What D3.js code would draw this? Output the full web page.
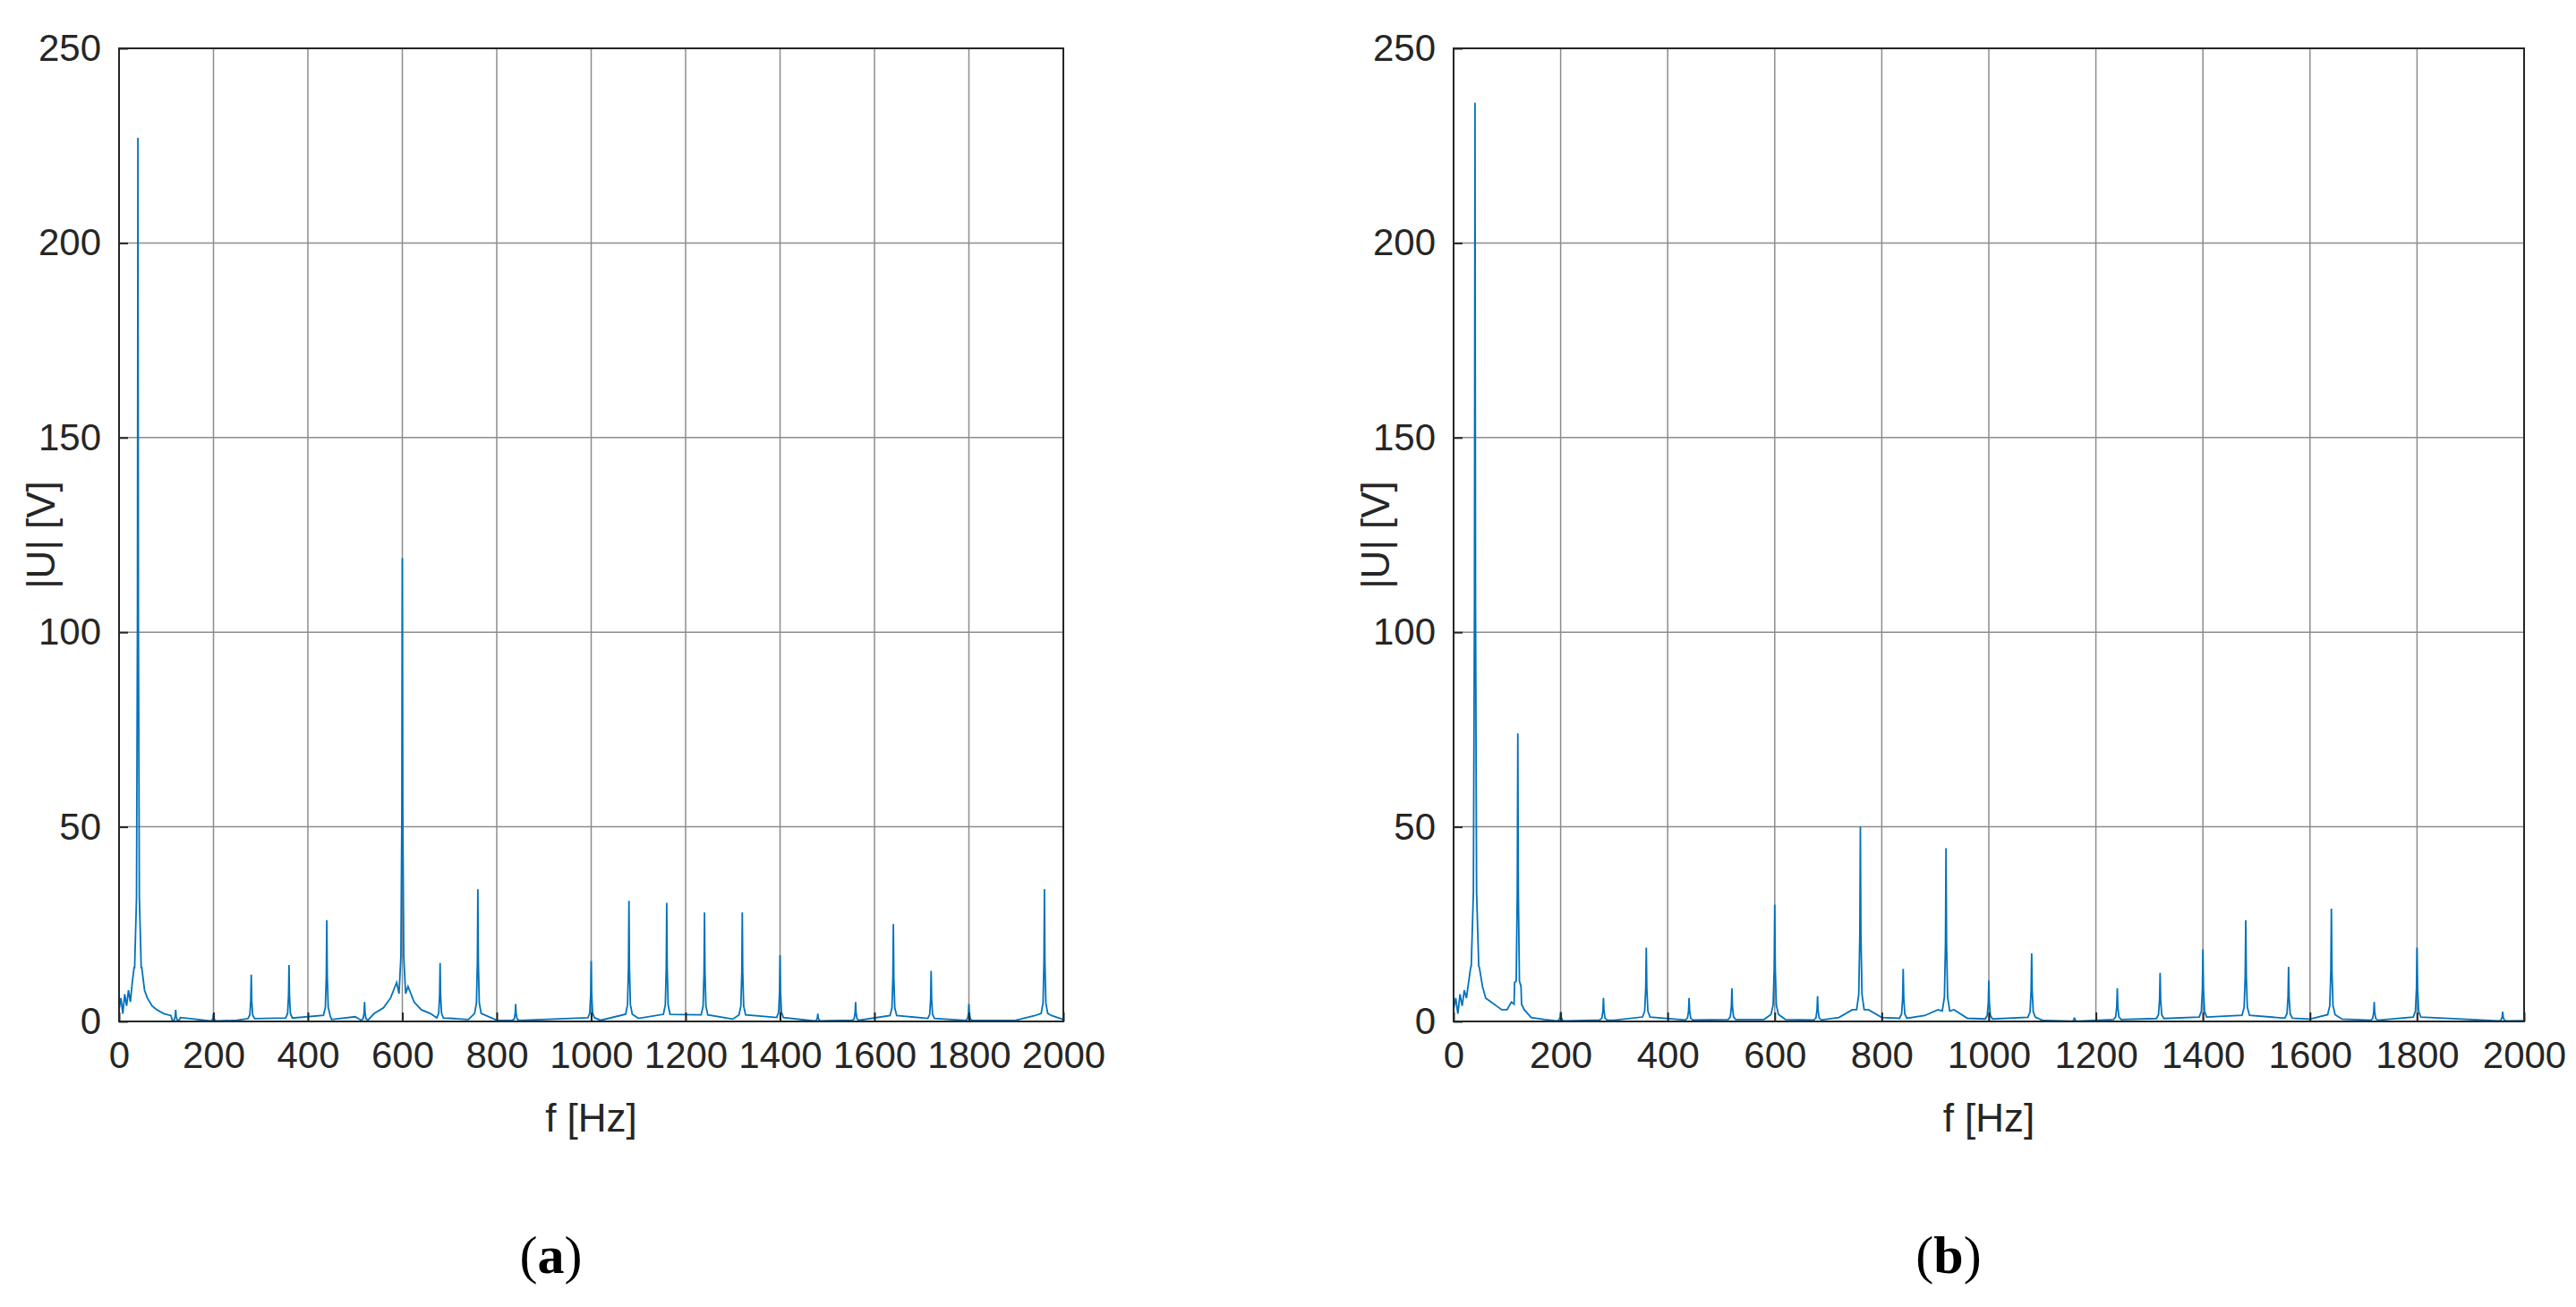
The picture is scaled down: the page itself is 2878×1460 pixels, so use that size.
<!DOCTYPE html>
<html>
<head>
<meta charset="utf-8">
<script src="https://d3js.org/d3.v7.min.js"></script>
<style>
  body { margin: 0; background: #fff; }
  text { font-family: "Liberation Sans Narrow", "Liberation Sans", Arial, sans-serif; fill: #262626; }
</style>
</head>
<body>
<div id="chart"></div>
<script>
// harmonic peaks: [frequency Hz, |U| V]
const peaksA = [[40, 227], [120, 3], [200, 2], [280, 12], [360, 14.5], [440, 26], [520, 5], [600, 119],
  [680, 15], [760, 34], [840, 4.5], [1000, 15.5], [1080, 31], [1160, 30.5], [1240, 28], [1320, 28],
  [1400, 17], [1480, 2], [1560, 5], [1640, 25], [1720, 13], [1800, 4.5], [1960, 34]];
const peaksB = [[40, 236], [120, 74], [200, 2.5], [280, 6], [360, 19], [440, 6], [520, 8.5], [600, 30],
  [680, 6.5], [760, 50], [840, 13.5], [920, 44.5], [1000, 10.5], [1080, 17.5], [1160, 1], [1240, 8.5],
  [1320, 12.5], [1400, 18.5], [1480, 26], [1560, 14], [1640, 29], [1720, 5], [1800, 19], [1960, 2.5]];
// noise floor / skirts
const floorA = [[0, 3], [4, 6], [8, 2], [12, 7], [16, 4], [20, 8], [24, 5], [28, 10], [32, 14],
  [48, 14], [54, 8], [60, 6], [70, 4], [80, 3], [95, 2], [110, 1.5], [130, 1], [160, 0.6], [250, 0.3],
  [450, 0.5], [500, 1.2], [540, 2], [560, 3.5], [575, 6], [588, 10], [612, 9], [625, 5], [640, 3],
  [660, 2], [700, 0.8], [740, 0.5], [800, 0.3], [1020, 0.3], [1100, 0.8], [1300, 0.6], [1500, 0.2],
  [1900, 0.3], [1940, 1.5], [1975, 1.5], [2000, 0.5]];
const floorB = [[0, 3], [4, 6], [8, 2], [12, 7], [16, 4], [20, 8], [24, 6], [28, 10], [32, 14],
  [48, 14], [54, 9], [60, 6], [70, 5], [80, 4], [90, 3], [100, 3], [108, 5], [114, 10], [126, 9],
  [132, 3], [145, 1], [170, 0.5], [300, 0.3], [580, 0.5], [620, 0.5], [720, 1], [745, 3], [775, 3],
  [800, 1], [880, 1.5], [905, 3], [935, 3], [960, 0.8], [1100, 0.3], [1600, 0.6], [1660, 0.6], [2000, 0.2]];
const xTicks = d3.range(0, 2001, 200);
const yTicks = [0, 50, 100, 150, 200, 250];

const W = 2878, H = 1460;
const svg = d3.select("#chart").append("svg").attr("width", W).attr("height", H);

function spectrum(peaks, floor) {
  const pts = floor.slice();
  peaks.forEach(([f, h]) => {
    pts.push([f - 7, h * 0.06], [f - 3, h * 0.14], [f - 1, h * 0.45], [f, h],
      [f + 1, h * 0.45], [f + 3, h * 0.14], [f + 7, h * 0.06]);
  });
  return pts.filter(p => p[0] >= 0 && p[0] <= 2000).sort((a, b) => a[0] - b[0]);
}

function panel(left, right, peaks, floor, label) {
  const top = 54, bottom = 1141;
  const x = d3.scaleLinear().domain([0, 2000]).range([left, right]);
  const y = d3.scaleLinear().domain([0, 250]).range([bottom, top]);
  const g = svg.append("g");

  g.selectAll(".gx").data(xTicks.slice(1, -1)).join("line")
    .attr("x1", d => x(d)).attr("x2", d => x(d)).attr("y1", top).attr("y2", bottom)
    .attr("stroke", "#8c8c8c").attr("stroke-width", 1.5);
  g.selectAll(".gy").data(yTicks.slice(1, -1)).join("line")
    .attr("y1", d => y(d)).attr("y2", d => y(d)).attr("x1", left).attr("x2", right)
    .attr("stroke", "#8c8c8c").attr("stroke-width", 1.5);

  g.append("path").datum(spectrum(peaks, floor))
    .attr("fill", "none").attr("stroke", "#0072BD").attr("stroke-width", 1.8)
    .attr("d", d3.line().x(d => x(d[0])).y(d => y(d[1])));

  g.append("rect").attr("x", left).attr("y", top).attr("width", right - left).attr("height", bottom - top)
    .attr("fill", "none").attr("stroke", "#262626").attr("stroke-width", 2);

  g.append("g").attr("transform", `translate(0,${bottom})`)
    .call(d3.axisBottom(x).tickValues(xTicks).tickFormat(d3.format("d")).tickSize(-10).tickPadding(22))
    .call(a => a.select(".domain").remove())
    .call(a => a.selectAll("line").attr("stroke", "#262626").attr("stroke-width", 2))
    .call(a => a.selectAll("text").attr("font-size", 42).style("font-family", null));
  g.append("g").attr("transform", `translate(${left},0)`)
    .call(d3.axisLeft(y).tickValues(yTicks).tickSize(-10).tickPadding(20))
    .call(a => a.select(".domain").remove())
    .call(a => a.selectAll("line").attr("stroke", "#262626").attr("stroke-width", 2))
    .call(a => a.selectAll("text").attr("font-size", 42).style("font-family", null));

  g.append("text").attr("x", (left + right) / 2).attr("y", 1264).attr("text-anchor", "middle")
    .attr("font-size", 44).text("f [Hz]");
  g.append("text").attr("transform", `translate(${left - 72},${(top + bottom) / 2}) rotate(-90)`)
    .attr("text-anchor", "middle").attr("font-size", 44).text("|U| [V]");
  g.append("text").attr("x", (left + right) / 2 - 45).attr("y", 1422).attr("text-anchor", "middle")
    .attr("font-size", 60).style("font-family", "'Liberation Serif', 'DejaVu Serif', serif").style("fill", "#000")
    .html(`(<tspan font-weight="bold">${label}</tspan>)`);
}

panel(133, 1188, peaksA, floorA, "a");
panel(1624, 2820, peaksB, floorB, "b");
</script>
</body>
</html>
